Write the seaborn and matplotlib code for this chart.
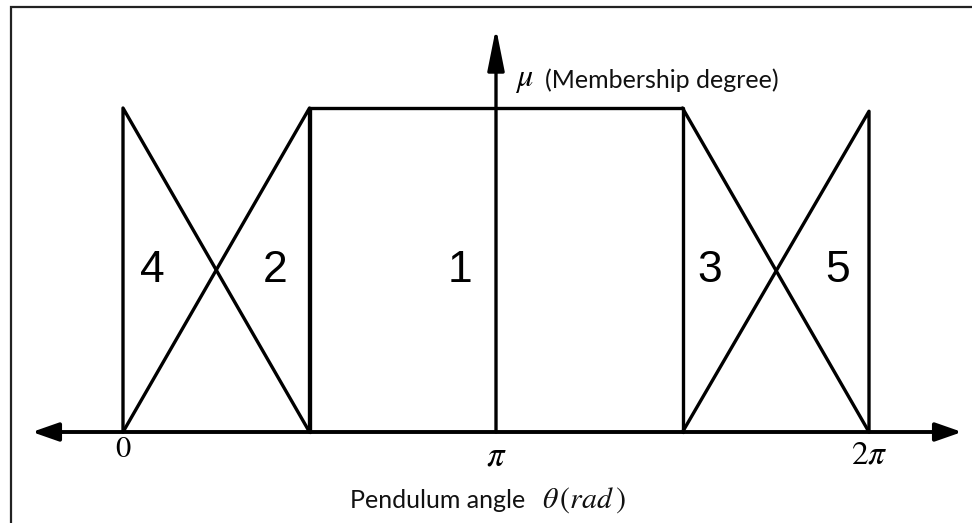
import numpy as np
import pandas as pd
import matplotlib
matplotlib.use("Agg")
import matplotlib.pyplot as plt
from matplotlib.patches import FancyArrowPatch, Rectangle
import seaborn as sns

sns.set_theme(style="white")
plt.rcParams['font.family'] = ['Lato', 'DejaVu Sans']
plt.rcParams['mathtext.fontset'] = 'stix'

PI = np.pi
# Membership functions (breakpoints in rad, membership degree)
set_names = ["4", "2", "1", "3", "5"]
set4_x = [0, 0, PI / 2]
set4_mu = [0, 1, 0]
set2_x = [0, PI / 2, PI / 2]
set2_mu = [0, 1, 0]
set1_x = [PI / 2, PI / 2, 3 * PI / 2, 3 * PI / 2]
set1_mu = [0, 1, 1, 0]
set3_x = [3 * PI / 2, 2 * PI]
set3_mu = [1, 0]
set5_x = [3 * PI / 2, 2 * PI, 2 * PI]
set5_mu = [0, 0.99, 0]
label_x = [0.25, 1.28, 2.84, 4.94, 6.02]
label_mu = [0.5, 0.5, 0.5, 0.5, 0.5]
tick_pos = [0, PI, 2 * PI]
tick_labels = ["$0$", r"$\pi$", r"$2\pi$"]

frames = []
for name, xs, ms in zip(set_names,
                        [set4_x, set2_x, set1_x, set3_x, set5_x],
                        [set4_mu, set2_mu, set1_mu, set3_mu, set5_mu]):
    frames.append(pd.DataFrame({"theta": xs, "mu": ms, "set": name,
                                "order": range(len(xs))}))
df = pd.concat(frames, ignore_index=True)

W, H = 972, 523
fig = plt.figure(figsize=(W / 100, H / 100), dpi=100)
ax = fig.add_axes([0, 0, 1, 1])

# pixel mapping: x=0 -> 123px, x=2pi -> 869px ; mu=0 -> 432px, mu=1 -> 108px
sx = (869 - 123) / (2 * PI)
ax.set_xlim(-123 / sx, (W - 123) / sx)
ax.set_ylim(-(H - 432) / 324, 1 + 108 / 324)
ax.axis("off")

for name in set_names:
    sub = df[df["set"] == name]
    sns.lineplot(data=sub, x="theta", y="mu", sort=False, estimator=None,
                 color="black", linewidth=2.4, ax=ax, legend=False)

# axes arrows
x_left = (32 - 123) / sx
x_right = (962 - 123) / sx
ax.add_patch(FancyArrowPatch((x_left, 0), (x_right, 0),
                             arrowstyle="<|-|>,head_length=1.0,head_width=0.35",
                             mutation_scale=16, color="black", linewidth=2.8,
                             shrinkA=0, shrinkB=0, zorder=3))
ax.add_patch(FancyArrowPatch((PI, 0), (PI, (432 - 28) / 324),
                             arrowstyle="-|>,head_length=1.6,head_width=0.32",
                             mutation_scale=16, color="black", linewidth=2.4,
                             shrinkA=0, shrinkB=0, zorder=3))

# set labels
for name, lx, ly in zip(set_names, label_x, label_mu):
    ax.text(lx, ly, name, ha="center", va="center", fontsize=32,
            family=["Liberation Sans"], color="black")

# tick labels
tick_base = [(432 - 457) / 324, (432 - 465) / 324, (432 - 463) / 324]
tick_size = [22, 25, 24]
for tp, tl, tb, ts in zip(tick_pos, tick_labels, tick_base, tick_size):
    ax.text(tp, tb, tl, ha="center", va="baseline", fontsize=ts, color="black")

# axis titles
ax.text((515 - 123) / sx, (432 - 80) / 324, r"$\mu$", ha="left", va="center",
        fontsize=23, color="black")
ax.text((545 - 123) / sx, (432 - 80) / 324, "(Membership degree)",
        ha="left", va="center", fontsize=18, color="#111111")
ax.text((350 - 123) / sx, (432 - 500) / 324, "Pendulum angle",
        ha="left", va="center", fontsize=18, color="#111111")
ax.text((542 - 123) / sx, (432 - 500) / 324, r"$\theta\,(rad\,)$",
        ha="left", va="center", fontsize=21.5, color="#111111")

# outer frame (only top and left visible)
fig.patches.append(Rectangle((11 / W, -0.2), 1.2, 1.2 - 7 / H + 0.0,
                             transform=fig.transFigure, fill=False,
                             edgecolor="#222222", linewidth=1.6))

fig.savefig("out.png", dpi=100)
